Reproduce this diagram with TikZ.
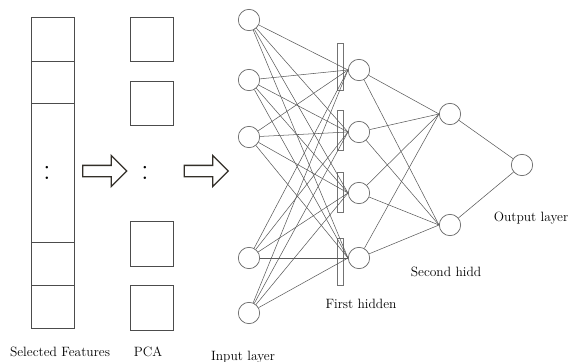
\documentclass[tikz,border=0pt]{standalone}
\usetikzlibrary{shapes.arrows}

\begin{document}
\begin{tikzpicture}[x=0.03cm,y=-0.03cm,
  neuron/.style={draw=black!60,circle,line width=0.6pt,inner sep=0pt,minimum size=0.64cm},
  cell/.style={draw=black!70,line width=0.8pt,inner sep=0pt,minimum width=1.29cm},
  bar/.style={draw=black!55,line width=0.5pt,inner sep=0pt,minimum width=0.18cm},
  conn/.style={black!65,line width=0.45pt},
  flow/.style={draw=black!85!olive,line width=1.1pt,single arrow,single arrow head extend=0.3cm,
    inner xsep=0pt,inner ysep=0.15cm,minimum height=1.32cm},
  lbl/.style={font=\fontsize{11.5}{13}\selectfont},
  dots/.style={inner sep=0pt,font=\fontsize{26}{26}\selectfont}]

  \useasboundingbox (0,0) rectangle (574,362);

  % selected features column
  \node[cell,minimum height=1.32cm] (F1) at (53,39) {};
  \node[cell,minimum height=1.26cm] (F2) at (53,82) {};
  \node[cell,minimum height=4.17cm] (F3) at (53,172.5) {};
  \node[cell,minimum height=1.29cm] (F4) at (53,263.5) {};
  \node[cell,minimum height=1.29cm] (F5) at (53,306.5) {};
  \node[dots] (Fdots) at (47,172.5) {:};

  % PCA column
  \node[cell,minimum height=1.32cm] (P1) at (151.5,39.5) {};
  \node[cell,minimum height=1.32cm] (P2) at (151.5,103) {};
  \node[cell,minimum height=1.35cm] (P3) at (151.5,243.5) {};
  \node[cell,minimum height=1.35cm] (P4) at (151.5,307.5) {};
  \node[dots] (Pdots) at (145,172.5) {:};

  \node[flow] (arr1) at (102,171) {};
  \node[flow] (arr2) at (203.5,171) {};

  % network
  \node[neuron] (I1) at (249,20) {};
  \node[neuron] (I2) at (249,80) {};
  \node[neuron] (I3) at (249,137) {};
  \node[neuron] (I4) at (249,258) {};
  \node[neuron] (I5) at (249,313) {};

  \node[bar,minimum height=1.41cm] (B1) at (340,66.5) {};
  \node[bar,minimum height=1.2cm] (B2) at (340,130) {};
  \node[bar,minimum height=1.2cm] (B3) at (340,192) {};
  \node[bar,minimum height=1.41cm] (B4) at (340,262) {};

  \node[neuron] (H1) at (359,70) {};
  \node[neuron] (H2) at (359,132) {};
  \node[neuron] (H3) at (359,193) {};
  \node[neuron] (H4) at (359,258) {};

  \node[neuron] (S1) at (450,114) {};
  \node[neuron] (S2) at (450,225) {};

  \node[neuron] (O) at (522,165) {};

  \path[conn] (I1) edge (H1.west) edge (H2.west) edge (H3.west) edge (H4.west)
              (I2) edge (H1.west) edge (H2.west) edge (H3.west) edge (H4.west)
              (I3) edge (H1.west) edge (H2.west) edge (H3.west) edge (H4.west)
              (I4) edge (H1.west) edge (H2.west) edge (H3.west) edge (H4.west)
              (I5) edge (H1.west) edge (H2.west) edge (H3.west) edge (H4.west);

  \path[conn] (H1) edge (S1.west) edge (S2.west)
              (H2) edge (S1.west) edge (S2.west)
              (H3) edge (S1.west) edge (S2.west)
              (H4) edge (S1.west) edge (S2.west);

  \path[conn] (S1) edge (O)
              (S2) edge (O);

  % labels
  \node[lbl] (lsel) at (60,352) {Selected Features};
  \node[lbl] (lpca) at (148,352) {PCA};
  \node[lbl] (lin) at (243,357) {Input layer};
  \node[lbl] (lh1) at (361,304) {First hidden};
  \node[lbl] (lh2) at (446,272) {Second hidd};
  \node[lbl] (lout) at (531,218) {Output layer};

\end{tikzpicture}
\end{document}
